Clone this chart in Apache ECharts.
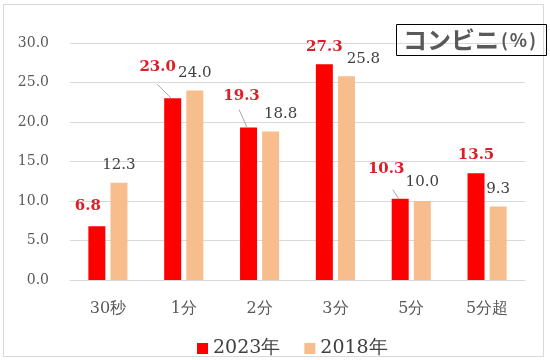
<!DOCTYPE html>
<html><head><meta charset="utf-8">
<script src="https://cdn.jsdelivr.net/npm/echarts@6/dist/echarts.min.js"></script>
<style>
html,body{margin:0;padding:0;background:#fff;}
#frame{position:absolute;left:3px;top:4px;width:541px;height:353px;border:1px solid #d9d9d9;box-sizing:border-box;}
#c{position:absolute;left:0;top:0;width:550px;height:360px;}
</style></head>
<body>
<div id="frame"></div>
<div id="c"></div>
<script>
const categories = ['30秒','1分','2分','3分','5分','5分超'];
const values2023 = [6.8, 23.0, 19.3, 27.3, 10.3, 13.5];
const values2018 = [12.3, 24.0, 18.8, 25.8, 10.0, 9.3];
const yTicks = [0, 5, 10, 15, 20, 25, 30];
const seriesNames = ['2023年', '2018年'];

// label nudges (px)
const shift2023 = [[-9,-3],[-15,-14],[-7,-14],[0,0],[-14,-12],[0,-1]];
const shift2018 = [[0,0],[0,0],[10,0],[17,0],[0,-1],[0,0]];
// leader lines: [startDx, startDy] relative to top-left corner of the red bar (null = none)
const leader2023 = [null,[-7,-14],[-1,-18],null,[1,-9],null];

const BAR_W = 17, GAP = 0.3;
const leaderData = [];
values2023.forEach((v,i)=>{ if(leader2023[i]) leaderData.push([i, v, leader2023[i][0], leader2023[i][1]]); });

const chart = echarts.init(document.getElementById('c'));
const numFont = '"DejaVu Serif", serif';
const cjkBold = {fontFamily:'"Noto Sans CJK JP"',fontWeight:'bold',color:'#595959',lineHeight:28};
chart.setOption({
  animation:false,
  title:{
    text:'{a|コンビニ}{p|(}{b|%}{p|)}',
    left:396, top:22,
    borderColor:'#000', borderWidth:1,
    padding:[4,9,4,7],
    textStyle:{
      rich:{
        a:Object.assign({fontSize:24},cjkBold),
        p:Object.assign({fontSize:18,padding:[0,2,0,2]},cjkBold),
        b:Object.assign({fontSize:18},cjkBold)
      }
    }
  },
  legend:{
    top:334, left:192,
    itemWidth:11, itemHeight:11, itemGap:24,
    icon:'rect',
    textStyle:{fontFamily:numFont,fontSize:19,color:'#404040'},
    data:seriesNames
  },
  grid:{left:70,right:25,top:43,bottom:80},
  xAxis:{
    type:'category', data:categories,
    axisLine:{lineStyle:{color:'#d9d9d9'}},
    axisTick:{show:false},
    axisLabel:{fontFamily:numFont,fontSize:16,color:'#595959',margin:21}
  },
  yAxis:{
    type:'value', min:0, max:30, interval:5,
    axisLine:{show:false}, axisTick:{show:false},
    splitLine:{lineStyle:{color:'#d9d9d9'}},
    axisLabel:{fontFamily:numFont,fontSize:14,color:'#595959',margin:21,
      formatter:v=>v.toFixed(1)}
  },
  series:[
    {
      name:seriesNames[0], type:'bar', barWidth:BAR_W, barGap:(GAP*100)+'%',
      itemStyle:{color:'#ff0000'},
      data:values2023,
      label:{show:true,position:'top',distance:10,fontFamily:numFont,fontSize:15,fontWeight:'bold',color:'#dd1e26',
        formatter:p=>p.value.toFixed(1)},
      labelLayout:p=>({dx:shift2023[p.dataIndex][0],dy:shift2023[p.dataIndex][1]})
    },
    {
      name:seriesNames[1], type:'bar', barWidth:BAR_W,
      itemStyle:{color:'#f8bd8d'},
      data:values2018,
      label:{show:true,position:'top',distance:10,fontFamily:numFont,fontSize:15,color:'#404040',
        formatter:p=>p.value.toFixed(1)},
      labelLayout:p=>({dx:shift2018[p.dataIndex][0],dy:shift2018[p.dataIndex][1]})
    },
    {
      type:'custom', silent:true, z:3,
      data:leaderData,
      encode:{x:0,y:1},
      renderItem:(params, api)=>{
        const pt = api.coord([api.value(0), api.value(1)]);
        const left = pt[0] - (BAR_W*(1+GAP))/2 - BAR_W/2;
        const top = pt[1];
        return {
          type:'line',
          shape:{x1:left+api.value(2), y1:top+api.value(3), x2:left+7, y2:top},
          style:{stroke:'#a6a6a6', lineWidth:1}
        };
      }
    }
  ]
});
</script>
</body></html>
